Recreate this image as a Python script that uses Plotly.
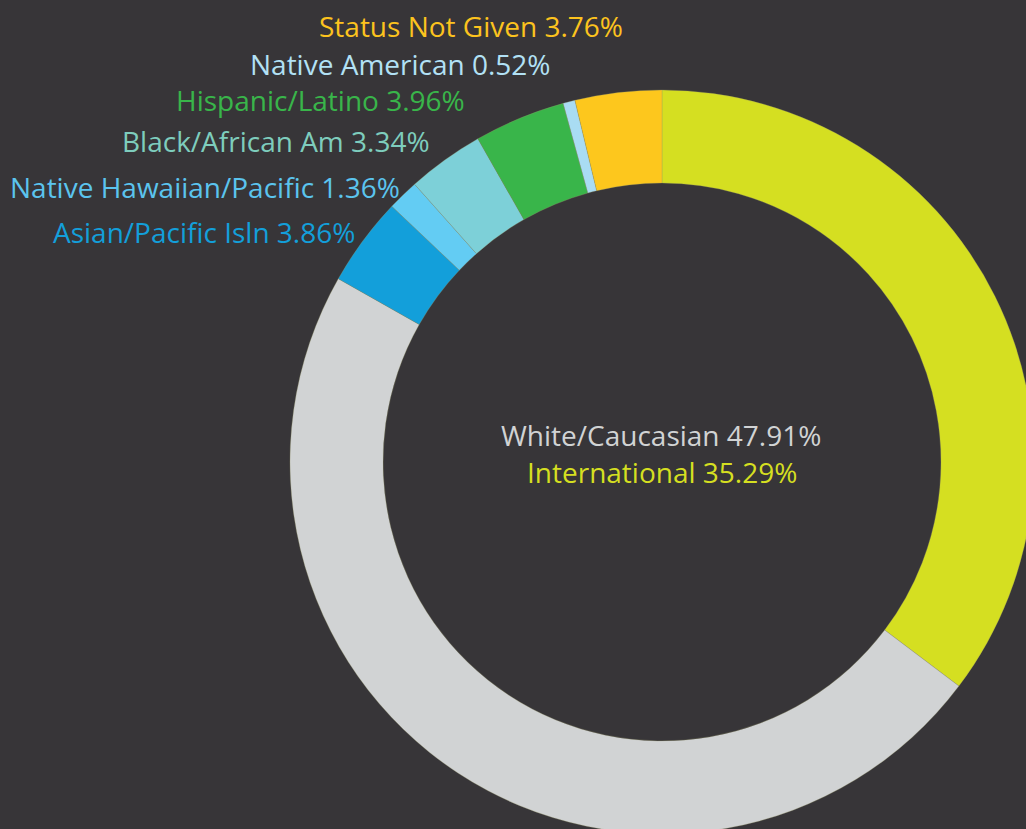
import plotly.graph_objects as go

# Data (clockwise from 12 o'clock)
categories = ["International", "White/Caucasian", "Asian/Pacific Isln",
              "Native Hawaiian/Pacific", "Black/African Am", "Hispanic/Latino",
              "Native American", "Status Not Given"]
values = [35.29, 47.91, 3.86, 1.36, 3.34, 3.96, 0.52, 3.76]

slice_colors = ["#d5df21", "#d1d3d4", "#139fda", "#63ccf3", "#7dd0d8",
                "#39b54a", "#a9dcf3", "#fdc71d"]
text_colors = {"International": "#d5df21", "White/Caucasian": "#d1d3d4",
               "Asian/Pacific Isln": "#139fda", "Native Hawaiian/Pacific": "#5bc4ee",
               "Black/African Am": "#7ecdbd", "Hispanic/Latino": "#39b54a",
               "Native American": "#b2e1f5", "Status Not Given": "#fcc31e"}

# figure slightly larger than the window so the ring is clipped like the reference
W, H = 1040, 840
BG = "#373538"
FONT = "Open Sans"
FS = 28

# ring: centre (662, 462) px, outer radius 372 px
cx, cy, R = 662, 462, 372
fig = go.Figure(go.Pie(
    labels=categories, values=values, sort=False, direction="clockwise",
    rotation=0, hole=0.75, textinfo="none", hoverinfo="label+percent",
    marker=dict(colors=slice_colors, line=dict(color="#9a9a6a", width=0.3)),
    domain=dict(x=[(cx - R) / W, (cx + R) / W],
                y=[1 - (cy + R) / H, 1 - (cy - R) / H]),
    showlegend=False,
))

# outside labels (right-aligned), pixel anchors
label_pos = {
    "Status Not Given": (625, 26),
    "Native American": (552, 64),
    "Hispanic/Latino": (467, 100),
    "Black/African Am": (432, 141),
    "Native Hawaiian/Pacific": (402, 187),
    "Asian/Pacific Isln": (357, 232),
}
annotations = []
for cat, val in zip(categories, values):
    if cat in label_pos:
        px, py = label_pos[cat]
        annotations.append(dict(
            x=px / W, y=1 - py / H, xref="paper", yref="paper",
            xanchor="right", yanchor="middle", showarrow=False,
            text=f"{cat} {val:.2f}%",
            font=dict(family=FONT, size=FS, color=text_colors[cat])))

center_pos = {"White/Caucasian": (661, 435), "International": (662, 472)}
for cat, val in zip(categories, values):
    if cat in center_pos:
        px, py = center_pos[cat]
        annotations.append(dict(
            x=px / W, y=1 - py / H, xref="paper", yref="paper",
            xanchor="center", yanchor="middle", showarrow=False,
            text=f"{cat} {val:.2f}%",
            font=dict(family=FONT, size=FS, color=text_colors[cat])))

fig.update_layout(
    width=W, height=H, margin=dict(l=0, r=0, t=0, b=0),
    paper_bgcolor=BG, plot_bgcolor=BG, annotations=annotations,
)

fig.write_html(
    "out.html",
    config={"displayModeBar": False},
    post_script="document.body.style.margin='0';"
                "document.body.style.overflow='hidden';"
                "document.body.style.background='#373538';",
)
